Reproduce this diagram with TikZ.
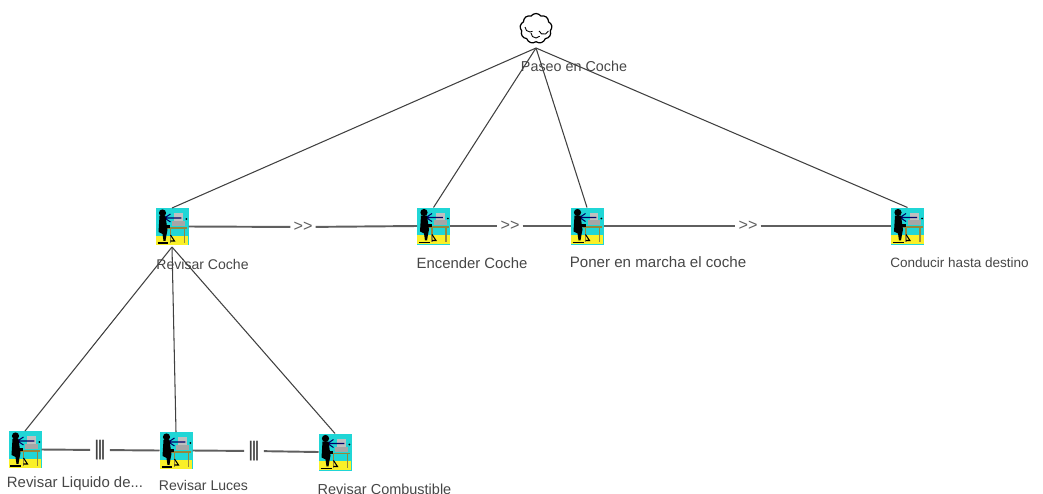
\documentclass[tikz,border=0pt]{standalone}
\usepackage{fontspec}
\setmainfont{Liberation Sans}
\usetikzlibrary{shapes.symbols}
\definecolor{iconcyan}{RGB}{32,214,214}
\definecolor{iconyellow}{RGB}{250,240,40}
\definecolor{desktan}{RGB}{150,135,60}
\definecolor{linegray}{RGB}{95,95,95}
\definecolor{textgray}{RGB}{70,70,70}
\tikzset{
    taskbox/.style={fill=iconcyan, minimum width=0.33cm, minimum height=0.37cm, inner sep=0pt, outer sep=0pt},
    tasklabel/.style={text=textgray, font=\fontsize{#1}{5}\selectfont, inner sep=0pt},
    tasklabel/.default=4,
    seqmark/.style={text=linegray, font=\fontsize{4.6}{5}\selectfont, fill=white, inner sep=0.7pt},
    parmark/.style={text=linegray!70!black, font=\fontsize{6}{6}\selectfont, fill=white, inner sep=0.9pt},
    treeline/.style={black!75, line width=0.3pt},
    seqline/.style={linegray, line width=0.55pt}
}

\begin{document}
\begin{tikzpicture}
    \useasboundingbox (0,0) rectangle (10.43,4.93);

    % Root goal
    \node[cloud, draw, cloud puffs=9, cloud puff arc=110, aspect=1, line width=0.35pt, minimum width=0.32cm, minimum height=0.3cm, inner sep=0pt, outer sep=0pt] (paseo) at (5.36,4.645) {};
    \coordinate (paseoApex) at (5.36,4.45);
    \draw[line width=0.25pt] (5.25,4.66) arc[start angle=180,end angle=300,radius=0.05];
    \draw[line width=0.25pt] (5.31,4.60) arc[start angle=180,end angle=320,radius=0.05];
    \draw[line width=0.25pt] (5.39,4.62) arc[start angle=200,end angle=340,radius=0.05];

    % Task icons
    \foreach \name/\x/\y in {coche/1.72/2.665, encender/4.335/2.67, poner/5.87/2.67, conducir/9.075/2.67, liquido/0.25/0.435, luces/1.76/0.425, combustible/3.35/0.41} {
        \node[taskbox] (\name) at (\x,\y) {};
        \begin{scope}[shift={(\name.north west)}, x=0.01cm, y=-0.01cm]
            \fill[iconyellow] (0,28) rectangle (33,37);
            % desk and screen
            \fill[black!25] (19,5) rectangle (28,13);
            \fill[black!35] (17,13) rectangle (30,18);
            \fill[desktan] (12,19) rectangle (32,21);
            \draw[desktan, line width=0.35pt] (15,21) -- (15,35) (29,21) -- (29,35);
            % arrow
            \draw[blue!40!black, line width=0.3pt] (9,10) -- (26,10) (15,6) -- (9,10) -- (15,14);
            \fill[black] (31,11) circle (1);
            % person
            \fill[black] (7,5) circle (3.6);
            \fill[black] (4,8) -- (10,8) -- (12,22) -- (11,27) -- (10,33) -- (8,33) -- (7,26) -- (3,24) -- cycle;
            \fill[black] (9,17) rectangle (15,20);
            \draw[black, line width=0.5pt] (2,35) -- (13,35);
            \draw[black, line width=0.3pt] (15,27) -- (19,33) -- (15,33);
        \end{scope}
    }

    % Decomposition lines
    \draw[treeline] (paseoApex) -- (coche.north);
    \draw[treeline] (paseoApex) -- (encender.north);
    \draw[treeline] (paseoApex) -- (poner.north);
    \draw[treeline] (paseoApex) -- (conducir.north);
    \coordinate (cocheApex) at (1.72,2.46);
    \draw[treeline] (cocheApex) -- (liquido.north);
    \draw[treeline] (cocheApex) -- (luces.north);
    \draw[treeline] (cocheApex) -- (combustible.north);

    % Sequence operators
    \node[seqmark] (seqA) at (3.03,2.66) {>{}>};
    \node[seqmark] (seqB) at (5.10,2.67) {>{}>};
    \node[seqmark] (seqC) at (7.48,2.67) {>{}>};
    \draw[seqline] (coche.east) -- (seqA) -- (encender.west);
    \draw[seqline] (encender.east) -- (seqB) -- (poner.west);
    \draw[seqline] (poner.east) -- (seqC) -- (conducir.west);
    \node[parmark] (parA) at (1.0,0.43) {|\kern-0.65pt|\kern-0.65pt|};
    \node[parmark] (parB) at (2.54,0.42) {|\kern-0.65pt|\kern-0.65pt|};
    \draw[seqline] (liquido.east) -- (parA) -- (luces.west);
    \draw[seqline] (luces.east) -- (parB) -- (combustible.west);

    % Labels
    \node[tasklabel=4.08] (paseoText) at (5.74,4.27) {Paseo en Coche};
    \node[tasklabel] (cocheText) at (2.025,2.29) {Revisar Coche};
    \node[tasklabel=4.23] (encenderText) at (4.72,2.30) {Encender Coche};
    \node[tasklabel=4.3] (ponerText) at (6.58,2.31) {Poner en marcha el coche};
    \node[tasklabel=3.85] (conducirText) at (9.595,2.30) {Conducir hasta destino};
    \node[tasklabel=4.25] (liquidoText) at (0.75,0.09) {Revisar Liquido de...};
    \node[tasklabel] (lucesText) at (2.035,0.08) {Revisar Luces};
    \node[tasklabel=4.12] (combustibleText) at (3.845,0.04) {Revisar Combustible};

\end{tikzpicture}
\end{document}
